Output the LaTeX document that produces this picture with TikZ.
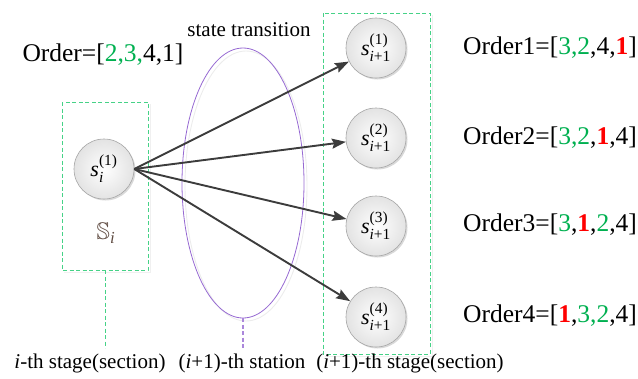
\documentclass[tikz,border=0pt]{standalone}
\usepackage{fontspec}
\usepackage{amsmath,amssymb}
\setmainfont{Liberation Serif}
\usetikzlibrary{arrows.meta,shadows}
\definecolor{ogreen}{RGB}{0,176,80}
\definecolor{ored}{RGB}{255,0,0}
\definecolor{boxgreen}{RGB}{70,210,135}
\definecolor{purp}{RGB}{150,105,210}
\definecolor{arr}{RGB}{60,60,60}
\definecolor{sbrown}{RGB}{95,75,65}
\newcommand\stl[2]{\textit{s}$^{\text{(#1)}}_{\text{#2}}$}
\newcommand\gn[1]{\textcolor{ogreen}{#1}}
\newcommand\rd[1]{\textcolor{ored}{\textbf{#1}}}
\begin{document}
\begin{tikzpicture}[x=1pt,y=-1pt,
  state/.style={circle,minimum size=60pt,inner sep=0pt,draw=gray!70,line width=0.6pt,
    inner color=white,outer color=gray!22,
    drop shadow={shadow xshift=1.5pt,shadow yshift=-1.5pt,opacity=0.3},
    font=\fontsize{22}{26}\selectfont},
  secbox/.style={draw=boxgreen,dashed,dash pattern=on 4pt off 2.5pt,line width=1pt},
  shadowline/.style={draw=gray!12,line width=0.9pt},
  trans/.style={draw=arr,line width=1.9pt,-{Stealth[length=14pt,width=10pt,inset=2pt]}},
  order/.style={font=\fontsize{25.5}{30}\selectfont,inner sep=0pt},
  lab/.style={font=\fontsize{21}{25}\selectfont,inner sep=0pt}
]
\useasboundingbox (0,0) rectangle (638,378);

% shadows of boxes and ellipse
\draw[shadowline] (150,104) -- (150,272) -- (64,272);
\draw[shadowline] (432,15) -- (432,356) -- (325,356);
\draw[gray!15,line width=0.9pt] (246,186) ellipse [x radius=61pt,y radius=135pt];

% section boxes
\draw[secbox] (62,102) rectangle (148,270);
\draw[secbox] (105,270) -- (105,348);
\draw[secbox] (323,13) rectangle (430,354);

% station ellipse
\draw[purp,line width=0.8pt] (243,183) ellipse [x radius=61pt,y radius=135pt];
\draw[purp!80,dashed,dash pattern=on 4pt off 2.5pt,line width=1.1pt] (243,318) -- (243,350);

% states
\node[state] (si) at (104,169) {\stl{1}{\textit{i}}};
\node[state] (n1) at (376,48) {\stl{1}{\textit{i}+1}};
\node[state] (n2) at (376,138) {\stl{2}{\textit{i}+1}};
\node[state] (n3) at (376,226) {\stl{3}{\textit{i}+1}};
\node[state] (n4) at (376,317) {\stl{4}{\textit{i}+1}};

\node[text=sbrown,font=\fontsize{24}{28}\selectfont] (S) at (106,233) {$\mathbb{S}_{\textit{i}}$};

% transitions
\draw[trans] (si.east) -- (n1);
\draw[trans] (si.east) -- (n2);
\draw[trans] (si.east) -- (n3);
\draw[trans] (si.east) -- (n4);

% texts
\node[order] (o0) at (103,55) {Order=[\gn{2,3,}4,1]};
\node[lab] (st) at (249,30) {state transition};
\node[order,anchor=west] (o1) at (463,48) {Order1=[\gn{3,2},4,\rd{1}]};
\node[order,anchor=west] (o2) at (463,138) {Order2=[\gn{3,2},\rd{1},4]};
\node[order,anchor=west] (o3) at (463,225) {Order3=[\gn{3},\rd{1},\gn{2},4]};
\node[order,anchor=west] (o4) at (463,316) {Order4=[\rd{1},\gn{3,2},4]};

\node[lab] (l1) at (90,363) {\textit{i}-th stage(section)};
\node[lab] (l2) at (242,363) {(\textit{i}+1)-th station};
\node[lab] (l3) at (410,363) {(\textit{i}+1)-th stage(section)};
\end{tikzpicture}
\end{document}
